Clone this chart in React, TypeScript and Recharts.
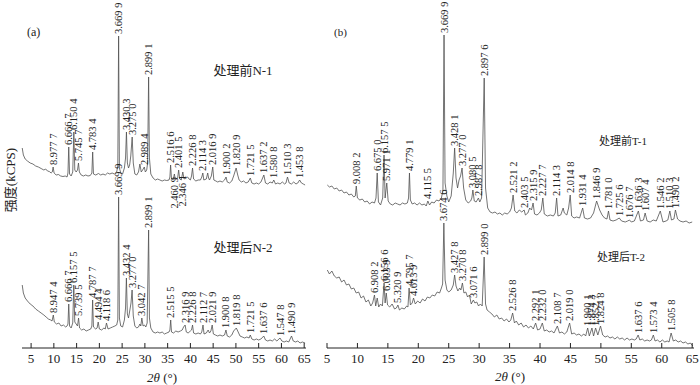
import React from "react";
import { ComposedChart, Line, XAxis, YAxis } from "recharts";

// 2θ tick labels shared by both panels
const angleTicks = [5, 10, 15, 20, 25, 30, 35, 40, 45, 50, 55, 60, 65];

// traces: [2θ, intensity] (arbitrary units)
const n1Trace: [number, number][] = [
  [3.05, 200], [3.3, 193], [3.7, 189], [4.2, 187], [4.8, 185], [5.4, 184], [6.0, 182], [6.6, 181],
  [7.2, 179.5], [7.8, 178], [8.2, 179], [8.6, 177], [9.0, 176.5], [9.4, 175], [9.65, 176], [9.84, 181],
  [10.05, 175], [10.5, 173], [11.0, 173.5], [11.5, 172], [12.0, 171.5], [12.5, 172], [12.9, 171], [13.1, 175],
  [13.27, 201], [13.45, 174], [13.8, 172], [14.15, 176], [14.39, 216], [14.6, 178], [14.9, 176], [15.2, 178],
  [15.41, 185], [15.6, 176], [16.0, 173], [16.5, 172], [17.0, 173], [17.5, 172], [18.0, 172.5], [18.35, 175],
  [18.53, 196], [18.7, 174], [19.2, 173], [19.8, 174.5], [20.3, 173], [20.8, 174], [21.3, 173], [21.8, 175],
  [22.3, 174], [22.8, 175], [23.3, 174], [23.8, 176], [24.05, 182], [24.23, 312], [24.4, 180], [24.7, 175],
  [25.1, 174], [25.5, 180], [25.75, 190], [25.95, 216], [26.15, 185], [26.4, 180], [26.65, 183], [26.9, 192],
  [27.21, 211], [27.45, 185], [27.8, 174], [28.2, 173], [28.6, 176], [28.9, 184], [29.2, 176], [29.5, 178],
  [29.87, 181], [30.1, 176], [30.4, 178], [30.6, 185], [30.82, 271], [31.0, 190], [31.3, 174], [31.8, 170],
  [32.3, 168], [32.8, 169], [33.3, 168], [33.8, 167], [34.3, 168], [34.8, 167.5], [35.3, 168], [35.5, 171],
  [35.65, 183], [35.85, 169], [36.2, 168], [36.48, 174], [36.7, 168], [37.0, 169], [37.2, 170], [37.42, 178],
  [37.65, 169], [38.0, 168], [38.33, 176], [38.6, 169], [39.0, 170], [39.4, 171], [39.7, 169], [40.0, 168],
  [40.25, 172], [40.47, 180], [40.7, 169], [41.2, 167], [41.7, 168], [42.2, 168], [42.5, 171], [42.73, 175],
  [42.95, 168], [43.5, 169], [43.8, 175], [44.0, 170], [44.2, 168], [44.6, 172], [44.91, 181], [45.15, 168],
  [45.6, 167], [46.0, 166], [46.5, 167], [47.0, 166], [47.5, 168], [47.83, 171], [48.1, 166], [48.6, 165],
  [49.1, 167], [49.5, 172], [50.05, 180], [50.4, 173], [50.7, 168], [51.2, 166], [51.7, 167], [52.2, 165],
  [52.7, 166], [53.16, 170], [53.5, 165], [54.0, 164], [54.5, 165], [55.0, 164], [55.5, 166], [56.14, 173],
  [56.5, 165], [57.0, 164], [57.5, 166], [58.0, 165], [58.32, 168], [58.7, 164], [59.2, 165], [59.7, 164],
  [60.2, 166], [60.7, 164], [61.0, 165], [61.33, 171], [61.7, 165], [62.2, 164], [62.7, 166], [63.2, 164],
  [63.6, 165], [64.0, 168], [64.4, 165], [64.8, 164], [65.2, 163],
];

const n2Trace: [number, number][] = [
  [3.05, 63], [3.3, 55], [3.7, 50], [4.2, 47], [4.8, 44], [5.4, 42], [6.0, 39], [6.6, 37],
  [7.2, 35], [7.8, 33], [8.3, 31], [8.8, 29], [9.3, 28], [9.6, 27], [9.88, 33], [10.1, 26],
  [10.6, 24], [11.1, 25], [11.6, 22], [12.1, 23], [12.6, 21], [12.9, 22], [13.1, 24], [13.27, 44],
  [13.45, 22], [13.8, 20], [14.15, 25], [14.38, 63], [14.6, 26], [14.9, 24], [15.2, 22], [15.43, 30],
  [15.65, 20], [16.1, 18], [16.6, 19], [17.1, 17], [17.6, 18], [18.1, 19], [18.35, 22], [18.52, 48],
  [18.7, 21], [19.2, 19], [19.5, 20], [19.74, 26], [20.0, 19], [20.5, 18], [21.0, 20], [21.3, 19],
  [21.56, 25], [21.9, 19], [22.4, 20], [22.9, 21], [23.4, 22], [23.8, 23], [24.05, 28], [24.23, 151],
  [24.4, 30], [24.7, 22], [25.1, 21], [25.5, 28], [25.75, 40], [25.94, 70], [26.15, 34], [26.4, 30],
  [26.7, 38], [26.95, 45], [27.19, 58], [27.45, 32], [27.8, 22], [28.2, 20], [28.6, 21], [28.9, 24],
  [29.1, 22], [29.33, 30], [29.6, 22], [29.9, 23], [30.2, 21], [30.5, 25], [30.82, 118], [31.0, 30],
  [31.3, 20], [31.8, 16], [32.3, 15], [32.8, 16], [33.3, 15], [33.8, 16], [34.3, 14], [34.8, 15],
  [35.3, 16], [35.5, 18], [35.67, 28], [35.85, 16], [36.3, 15], [36.8, 17], [37.3, 16], [37.8, 17],
  [38.2, 18], [38.5, 21], [38.84, 23], [39.1, 16], [39.5, 15], [40.0, 17], [40.25, 18], [40.47, 23],
  [40.7, 15], [41.2, 14], [41.7, 15], [42.2, 14], [42.5, 16], [42.77, 23], [43.0, 14], [43.5, 15],
  [43.9, 18], [44.2, 15], [44.5, 17], [44.79, 23], [45.05, 14], [45.5, 13], [46.0, 12], [46.5, 13],
  [47.0, 12], [47.5, 13], [47.81, 18], [48.1, 12], [48.6, 11], [49.1, 13], [49.5, 17], [50.09, 20],
  [50.5, 16], [50.9, 12], [51.4, 11], [51.9, 10], [52.4, 11], [52.9, 10], [53.16, 13], [53.5, 9],
  [54.0, 8], [54.5, 9], [55.0, 8], [55.5, 9], [56.12, 12], [56.5, 8], [57.0, 7], [57.5, 8],
  [58.0, 7], [58.5, 9], [59.0, 7], [59.69, 10], [60.1, 7], [60.6, 6], [61.1, 7], [61.6, 6],
  [62.22, 12], [62.6, 7], [63.1, 6], [63.6, 7], [64.1, 5], [64.6, 6], [65.2, 5],
];

const t1Trace: [number, number][] = [
  [5.05, 163], [5.4, 161], [5.8, 162], [6.2, 159], [6.6, 160], [7.0, 157], [7.4, 158], [7.8, 155],
  [8.2, 156], [8.6, 153], [9.0, 154], [9.4, 151], [9.65, 152], [9.81, 162], [10.0, 150], [10.4, 148],
  [10.8, 149], [11.2, 146], [11.6, 147], [12.0, 144], [12.4, 146], [12.8, 145], [13.05, 150], [13.25, 175],
  [13.45, 146], [13.8, 143], [14.15, 150], [14.37, 193], [14.55, 150], [14.82, 165], [15.05, 147], [15.4, 144],
  [15.8, 143], [16.2, 145], [16.6, 144], [17.0, 143], [17.4, 145], [17.8, 144], [18.2, 145], [18.4, 150],
  [18.55, 175], [18.7, 148], [19.0, 144], [19.4, 145], [19.8, 143], [20.2, 145], [20.6, 143], [21.0, 144],
  [21.3, 142], [21.57, 147], [21.85, 143], [22.2, 146], [22.6, 145], [23.0, 148], [23.4, 147], [23.8, 150],
  [24.05, 158], [24.23, 313], [24.4, 165], [24.7, 152], [25.0, 146], [25.4, 152], [25.75, 175], [25.97, 200],
  [26.2, 170], [26.45, 160], [26.7, 168], [26.95, 172], [27.19, 180], [27.45, 160], [27.8, 148], [28.2, 145],
  [28.6, 147], [28.8, 150], [28.97, 158], [29.2, 147], [29.5, 146], [29.88, 150], [30.1, 146], [30.4, 150],
  [30.83, 270], [31.05, 160], [31.4, 140], [31.8, 136], [32.2, 135], [32.6, 136], [33.0, 134], [33.4, 135],
  [33.8, 133], [34.2, 135], [34.6, 134], [35.0, 136], [35.3, 140], [35.58, 153], [35.85, 137], [36.2, 135],
  [36.6, 138], [37.0, 136], [37.39, 138], [37.6, 133], [38.0, 135], [38.3, 140], [38.6, 138], [38.86, 145],
  [39.1, 134], [39.5, 133], [39.9, 135], [40.2, 138], [40.46, 150], [40.7, 134], [41.2, 132], [41.7, 133],
  [42.2, 132], [42.5, 135], [42.73, 150], [42.95, 132], [43.4, 133], [43.8, 140], [44.0, 135], [44.4, 133],
  [44.7, 140], [44.96, 153], [45.2, 132], [45.6, 130], [46.0, 131], [46.5, 130], [47.01, 140], [47.3, 130],
  [47.8, 129], [48.3, 130], [48.8, 135], [49.3, 147], [49.8, 138], [50.2, 133], [50.6, 130], [51.0, 129],
  [51.25, 137], [51.5, 128], [52.0, 127], [52.5, 128], [53.02, 130], [53.4, 127], [54.0, 126], [54.4, 127],
  [54.7, 128], [55.0, 126], [55.5, 127], [56.16, 137], [56.5, 127], [57.0, 128], [57.27, 135], [57.6, 127],
  [58.1, 126], [58.6, 128], [59.1, 127], [59.76, 137], [60.2, 126], [60.7, 127], [61.0, 128], [61.33, 137],
  [61.6, 128], [62.0, 129], [62.25, 138], [62.6, 129], [63.0, 127], [63.5, 126], [64.0, 127], [64.5, 125],
  [65.0, 126],
];

const t2Trace: [number, number][] = [
  [5.05, 78], [5.4, 74], [5.8, 77], [6.2, 72], [6.6, 70], [7.0, 71], [7.4, 66], [7.8, 68],
  [8.2, 63], [8.6, 64], [9.0, 59], [9.4, 60], [9.8, 55], [10.2, 56], [10.6, 50], [11.0, 52],
  [11.4, 46], [11.8, 48], [12.2, 42], [12.5, 45], [12.8, 53], [13.0, 42], [13.25, 50], [13.5, 41],
  [13.8, 44], [14.1, 42], [14.38, 65], [14.55, 45], [14.74, 55], [14.95, 43], [15.3, 41], [15.7, 44],
  [16.1, 39], [16.4, 40], [16.65, 43], [16.9, 38], [17.3, 40], [17.7, 39], [18.1, 42], [18.3, 41],
  [18.49, 60], [18.7, 43], [19.0, 45], [19.22, 50], [19.5, 44], [19.9, 47], [20.3, 45], [20.7, 49],
  [21.1, 47], [21.5, 51], [21.9, 50], [22.3, 53], [22.7, 52], [23.1, 56], [23.5, 55], [23.8, 60],
  [24.0, 64], [24.2, 125], [24.4, 68], [24.7, 58], [25.0, 56], [25.4, 58], [25.75, 63], [25.97, 73],
  [26.2, 62], [26.5, 57], [26.8, 60], [27.0, 58], [27.25, 65], [27.5, 55], [27.8, 56], [28.1, 51],
  [28.4, 53], [28.7, 44], [29.05, 48], [29.3, 45], [29.6, 46], [29.9, 42], [30.2, 44], [30.5, 42],
  [30.82, 91], [31.05, 44], [31.3, 38], [31.7, 36], [32.1, 34], [32.5, 31], [32.9, 33], [33.3, 29],
  [33.7, 30], [34.1, 27], [34.5, 29], [34.9, 26], [35.2, 28], [35.5, 35], [35.8, 25], [36.1, 27],
  [36.5, 23], [36.9, 25], [37.3, 21], [37.7, 23], [38.1, 20], [38.5, 22], [38.9, 19], [39.28, 25],
  [39.6, 18], [40.0, 19], [40.38, 25], [40.7, 17], [41.1, 18], [41.5, 16], [41.9, 17], [42.3, 15],
  [42.85, 22], [43.2, 15], [43.6, 16], [44.0, 14], [44.4, 16], [44.86, 25], [45.2, 14], [45.6, 15],
  [46.0, 13], [46.4, 14], [46.8, 12], [47.2, 14], [47.5, 12], [47.83, 20], [48.1, 12], [48.53, 20],
  [48.8, 12], [49.13, 20], [49.5, 13], [49.94, 22], [50.3, 13], [50.7, 11], [51.1, 12], [51.5, 10],
  [51.9, 11], [52.3, 9], [52.7, 11], [53.1, 9], [53.5, 10], [53.9, 8], [54.3, 10], [54.7, 8],
  [55.1, 9], [55.5, 8], [55.8, 9], [56.12, 13], [56.4, 8], [56.8, 9], [57.2, 7], [57.6, 8],
  [58.0, 7], [58.3, 8], [58.62, 13], [58.9, 7], [59.3, 8], [59.7, 6], [60.1, 8], [60.5, 6],
  [60.9, 7], [61.2, 6], [61.54, 15], [61.9, 7], [62.3, 8], [62.7, 6], [63.1, 7], [63.5, 5],
  [63.9, 6], [64.3, 4], [64.7, 5], [65.1, 2],
];

// peak labels: [2θ, intensity at the peak top, d-spacing text]
const n1Peaks: [number, number, string][] = [
  [9.84, 181, "8.977 7"], [13.27, 201, "6.666 7"], [14.39, 216, "6.150 4"], [15.41, 185, "5.745 7"],
  [18.53, 196, "4.783 4"], [24.23, 312, "3.669 9"], [25.95, 216, "3.430 3"], [27.21, 211, "3.275 0"],
  [29.87, 181, "2.989 4"], [30.82, 271, "2.899 1"], [35.65, 183, "2.516 6"], [36.48, 174, "2.460 9"],
  [37.42, 178, "2.401 5"], [38.33, 176, "2.346 1"], [40.47, 180, "2.226 8"], [42.73, 175, "2.114 3"],
  [44.91, 181, "2.016 9"], [47.83, 171, "1.900 2"], [50.05, 180, "1.820 9"], [53.16, 170, "1.721 5"],
  [56.14, 173, "1.637 2"], [58.32, 168, "1.580 8"], [61.33, 171, "1.510 3"], [64.0, 168, "1.453 8"],
];

const n2Peaks: [number, number, string][] = [
  [9.88, 33, "8.947 4"], [13.27, 44, "6.666 7"], [14.38, 63, "6.157 5"], [15.43, 30, "5.739 5"],
  [18.52, 48, "4.787 7"], [19.74, 26, "4.494 4"], [21.56, 25, "4.118 6"], [24.23, 151, "3.669 9"],
  [25.94, 70, "3.432 4"], [27.19, 58, "3.277 0"], [29.33, 30, "3.042 7"], [30.82, 118, "2.899 1"],
  [35.67, 28, "2.515 5"], [38.84, 23, "2.316 9"], [40.47, 23, "2.226 8"], [42.77, 23, "2.112 7"],
  [44.79, 23, "2.021 9"], [47.81, 18, "1.900 8"], [50.09, 20, "1.819 8"], [53.16, 13, "1.721 5"],
  [56.12, 12, "1.637 6"], [59.69, 10, "1.547 8"], [62.22, 12, "1.490 9"],
];

const t1Peaks: [number, number, string][] = [
  [9.81, 162, "9.008 2"], [13.25, 175, "6.675 0"], [14.37, 193, "6.157 5"], [14.82, 165, "5.971 1"],
  [18.55, 175, "4.779 1"], [21.57, 147, "4.115 5"], [24.23, 313, "3.669 9"], [25.97, 200, "3.428 1"],
  [27.19, 180, "3.277 0"], [28.97, 158, "3.080 5"], [29.88, 150, "2.987 8"], [30.83, 270, "2.897 6"],
  [35.58, 153, "2.521 2"], [37.39, 138, "2.403 5"], [38.86, 145, "2.315 9"], [40.46, 150, "2.227 7"],
  [42.73, 150, "2.114 3"], [44.96, 153, "2.014 8"], [47.01, 140, "1.931 4"], [49.3, 147, "1.846 9"],
  [51.25, 137, "1.781 0"], [53.02, 130, "1.725 6"], [54.7, 128, "1.676 7"], [56.16, 137, "1.636 3"],
  [57.27, 135, "1.607 4"], [59.76, 137, "1.546 2"], [61.33, 137, "1.510 3"], [62.25, 138, "1.490 2"],
];

const t2Peaks: [number, number, string][] = [
  [12.8, 53, "6.908 2"], [14.38, 65, "6.156 6"], [14.74, 55, "6.003 9"], [16.65, 43, "5.320 9"],
  [18.49, 60, "4.795 7"], [19.22, 50, "4.613 9"], [24.2, 125, "3.674 6"], [25.97, 73, "3.427 8"],
  [27.25, 65, "3.270 8"], [29.05, 48, "3.071 6"], [30.82, 91, "2.899 0"], [35.5, 35, "2.526 8"],
  [39.28, 25, "2.292 1"], [40.38, 25, "2.232 0"], [42.85, 22, "2.108 7"], [44.86, 25, "2.019 0"],
  [47.83, 20, "1.900 1"], [48.53, 20, "1.874 3"], [49.13, 20, "1.852 7"], [49.94, 22, "1.824 8"],
  [56.12, 13, "1.637 6"], [58.62, 13, "1.573 4"], [61.54, 15, "1.505 8"],
];

// labels that hang below the trace instead of standing above it
const hangingLabels = ["2.460 9", "2.346 1"];

const FONT = '"Liberation Serif", "Noto Sans CJK SC", serif';
const INK = "#222";
const TRACE = "#505050";

const rows = (pts: [number, number][]) => pts.map(([x, y]) => ({ x, y }));
const peakRows = (pts: [number, number, string][]) =>
  pts.map(([x, y, label]) => ({ x, y, label }));

function InTick(props: any) {
  const { x, y, payload } = props;
  return (
    <g>
      <line x1={x} y1={y} x2={x} y2={y - 5} stroke={INK} strokeWidth={1} />
      <text x={x} y={y + 15} textAnchor="middle" fontSize={13} fontFamily={FONT} fill={INK}>
        {payload.value}
      </text>
    </g>
  );
}

function peakLabel(props: any) {
  const { cx, cy, payload, index } = props;
  if (cx == null || cy == null) return <g key={`pk-${index}`} />;
  const below = hangingLabels.includes(payload.label);
  const ay = below ? cy + 3 : cy - 2;
  return (
    <text
      key={`pk-${index}`}
      x={cx}
      y={ay}
      transform={`rotate(-90 ${cx} ${ay})`}
      textAnchor={below ? "end" : "start"}
      dominantBaseline="central"
      fontSize={10.5}
      fontFamily={FONT}
      fill={INK}
    >
      {payload.label}
    </text>
  );
}

function Panel(props: {
  left: number;
  width: number;
  margin: { top: number; right: number; bottom: number; left: number };
  domain: [number, number];
  upper: [number, number][];
  lower: [number, number][];
  upperPeaks: [number, number, string][];
  lowerPeaks: [number, number, string][];
}) {
  const { left, width, margin, domain, upper, lower, upperPeaks, lowerPeaks } = props;
  return (
    <div style={{ position: "absolute", left, top: 0 }}>
      <ComposedChart width={width} height={385} margin={margin}>
        <XAxis
          type="number"
          dataKey="x"
          domain={domain}
          ticks={angleTicks}
          interval={0}
          tick={<InTick />}
          tickLine={false}
          tickSize={0}
          tickMargin={0}
          height={30}
          axisLine={{ stroke: INK }}
        />
        <YAxis type="number" domain={[0, 330]} width={0} tick={false} tickLine={false} axisLine={{ stroke: INK }} />
        <Line data={rows(upper)} dataKey="y" type="linear" stroke={TRACE} strokeWidth={0.8} dot={false} activeDot={false} isAnimationActive={false} />
        <Line data={rows(lower)} dataKey="y" type="linear" stroke={TRACE} strokeWidth={0.8} dot={false} activeDot={false} isAnimationActive={false} />
        <Line data={peakRows(upperPeaks)} dataKey="y" stroke="none" dot={peakLabel} activeDot={false} isAnimationActive={false} />
        <Line data={peakRows(lowerPeaks)} dataKey="y" stroke="none" dot={peakLabel} activeDot={false} isAnimationActive={false} />
      </ComposedChart>
    </div>
  );
}

export default function App() {
  return (
    <div style={{ position: "absolute", left: 0, top: 0, width: 700, height: 385, background: "#fff" }}>
      <Panel
        left={0}
        width={320}
        margin={{ top: 18, right: 14, bottom: 7, left: 22 }}
        domain={[3, 65.4]}
        upper={n1Trace}
        lower={n2Trace}
        upperPeaks={n1Peaks}
        lowerPeaks={n2Peaks}
      />
      <Panel
        left={320}
        width={380}
        margin={{ top: 18, right: 6, bottom: 7, left: 7 }}
        domain={[5, 65.3]}
        upper={t1Trace}
        lower={t2Trace}
        upperPeaks={t1Peaks}
        lowerPeaks={t2Peaks}
      />
      <svg width={700} height={385} style={{ position: "absolute", left: 0, top: 0, pointerEvents: "none" }}>
        <g fontFamily={FONT} fill={INK}>
          <text x={10} y={180} transform="rotate(-90 10 180)" textAnchor="middle" dominantBaseline="central" fontSize={13}>
            强度(kCPS)
          </text>
          <text x={27} y={36} fontSize={12}>(a)</text>
          <text x={334} y={36} fontSize={11}>(b)</text>
          <text x={243} y={75} textAnchor="middle" fontSize={13}>处理前N-1</text>
          <text x={243} y={252} textAnchor="middle" fontSize={13}>处理后N-2</text>
          <text x={623} y={145} textAnchor="middle" fontSize={11}>处理前T-1</text>
          <text x={621} y={261} textAnchor="middle" fontSize={11}>处理后T-2</text>
          <text x={162} y={382} textAnchor="middle" fontSize={13}>
            <tspan fontStyle="italic">2θ</tspan> (°)
          </text>
          <text x={510} y={381} textAnchor="middle" fontSize={13}>
            <tspan fontStyle="italic">2θ</tspan> (°)
          </text>
        </g>
      </svg>
    </div>
  );
}
